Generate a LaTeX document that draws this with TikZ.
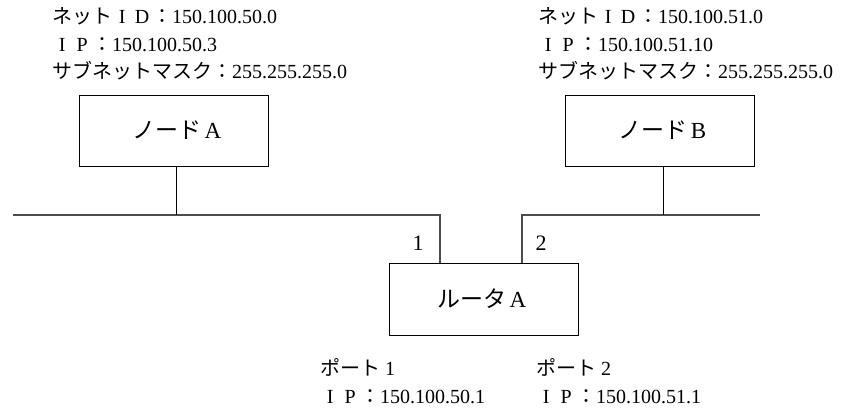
\documentclass[tikz,border=0pt]{standalone}
\usepackage{fontspec}
\setmainfont{Liberation Serif}
\newfontfamily\jp{Noto Sans CJK JP}
\newcommand\fw[1]{\makebox[1em]{#1}}
\newcommand\jc[1]{{\jp #1}}
\begin{document}
\begin{tikzpicture}[x=1pt,y=-1pt,
  info/.style={anchor=base west, inner sep=0pt, font=\fontsize{20}{24}\selectfont},
  box/.style={draw, line width=1pt, minimum width=189pt, minimum height=71pt, inner sep=0pt, font=\fontsize{23}{26}\selectfont},
  portnum/.style={anchor=base, inner sep=0pt, font=\fontsize{22}{26}\selectfont},
  bus/.style={line width=1.6pt, draw=black!70},
  stem/.style={line width=1pt}]
\useasboundingbox (0,0) rectangle (841,408);

% info texts, left
\node[info] (a1) at (52,23.5) {\jc{ネット}\fw{I}\fw{D}\jc{：}150.100.50.0};
\node[info] (a2) at (52,51) {\fw{I}\fw{P}\jc{：}150.100.50.3};
\node[info] (a3) at (52,78.5) {\jc{サブネットマスク：}255.255.255.0};
% info texts, right
\node[info] (b1) at (538,23.5) {\jc{ネット}\fw{I}\fw{D}\jc{：}150.100.51.0};
\node[info] (b2) at (538,51) {\fw{I}\fw{P}\jc{：}150.100.51.10};
\node[info] (b3) at (538,78.5) {\jc{サブネットマスク：}255.255.255.0};

% boxes
\node[box] (A) at (173.5,130.5) {\hspace{10pt}\jc{ノード}\fw{A}};
\node[box] (B) at (660,130.5) {\hspace{8pt}\jc{ノード}\fw{B}};
\node[box, minimum height=72pt] (R) at (483.5,299) {\jc{ルータ}\fw{A}};

% bus coordinates
\coordinate (L0) at (13,215);
\coordinate (L1) at (440,215);
\coordinate (R0) at (522,215);
\coordinate (R1) at (760,215);

\draw[bus] (L0) -- (L1) -- (L1 |- R.north);
\draw[bus] (R0 |- R.north) -- (R0) -- (R1);
\draw[stem] (A.south -| 176,0) -- (176,215);
\draw[stem] (B.south -| 663,0) -- (663,215);

% port numbers
\node[portnum] (p1) at (418,250) {1};
\node[portnum] (p2) at (541,250) {2};

% port info
\node[info] (c1) at (320,375) {\jc{ポート}\fw{1}};
\node[info] (c2) at (320,403) {\fw{I}\fw{P}\jc{：}150.100.50.1};
\node[info] (d1) at (536,375) {\jc{ポート}\fw{2}};
\node[info] (d2) at (536,403) {\fw{I}\fw{P}\jc{：}150.100.51.1};
\end{tikzpicture}
\end{document}
